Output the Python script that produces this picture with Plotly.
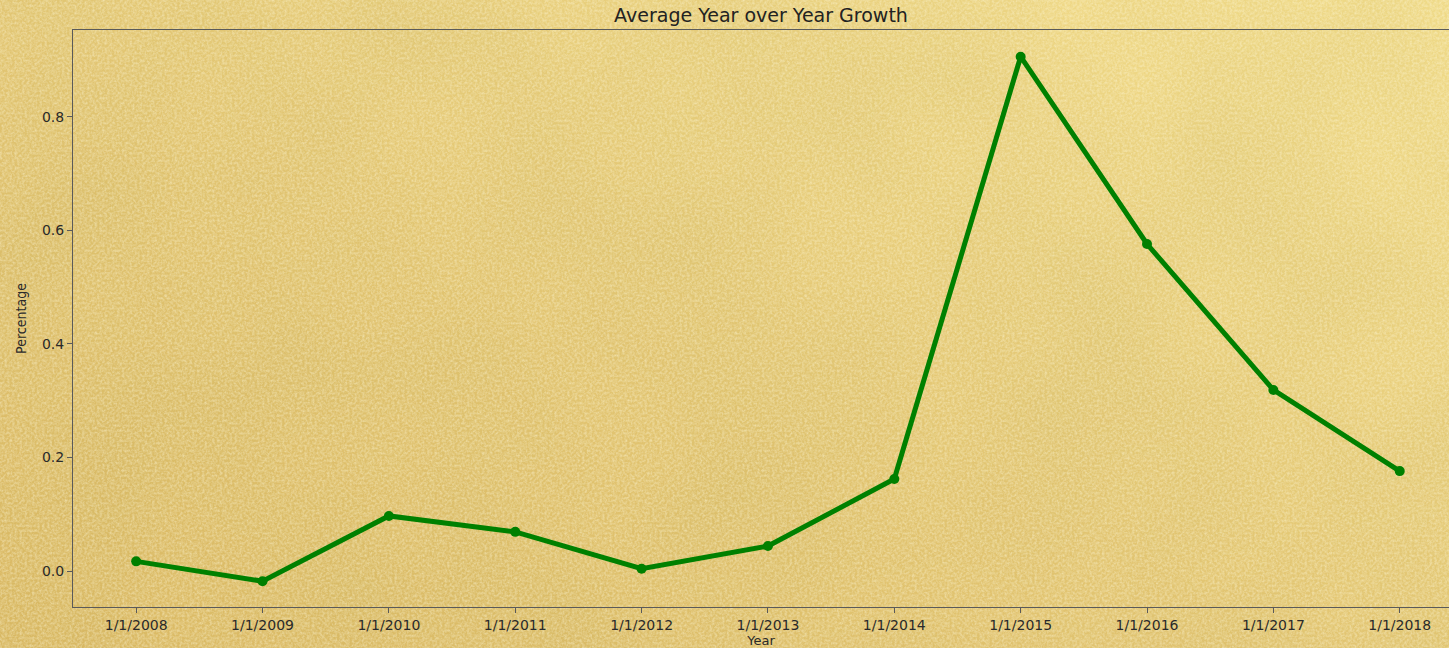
import base64

import plotly.graph_objects as go

# data
years = ["1/1/2008", "1/1/2009", "1/1/2010", "1/1/2011", "1/1/2012", "1/1/2013",
         "1/1/2014", "1/1/2015", "1/1/2016", "1/1/2017", "1/1/2018"]
growth = [0.017, -0.018, 0.097, 0.069, 0.004, 0.044, 0.162, 0.906, 0.576, 0.319, 0.176]
y_ticks = [0.0, 0.2, 0.4, 0.6, 0.8]

W, H = 1449, 648
M = {"l": 73, "r": 0, "t": 30, "b": 41}
pw = W - M["l"] - M["r"]
ph = H - M["t"] - M["b"]

# parchment-like background as an inline svg (gradient + fractal noise)
svg = f"""<svg xmlns="http://www.w3.org/2000/svg" width="{W}" height="{H}" viewBox="0 0 {W} {H}">
<defs>
<linearGradient id="g" x1="0" y1="1" x2="1" y2="0">
<stop offset="0" stop-color="#dab964"/>
<stop offset="0.45" stop-color="#e2c572"/>
<stop offset="1" stop-color="#f3de8d"/>
</linearGradient>
<filter id="blot"><feTurbulence type="fractalNoise" baseFrequency="0.006" numOctaves="2" seed="3"/>
<feColorMatrix type="matrix" values="0 0 0 0 0.55  0 0 0 0 0.42  0 0 0 0 0.1  0 0 0 0.35 -0.1"/></filter>
<filter id="grain"><feTurbulence type="fractalNoise" baseFrequency="0.4" numOctaves="3" seed="7"/>
<feColorMatrix type="matrix" values="0 0 0 0 1  0 0 0 0 0.95  0 0 0 0 0.7  0 0 0 0.8 -0.25"/></filter>
</defs>
<rect width="{W}" height="{H}" fill="url(#g)"/>
<rect width="{W}" height="{H}" filter="url(#blot)"/>
<rect width="{W}" height="{H}" filter="url(#grain)"/>
</svg>"""
bg_src = "data:image/svg+xml;base64," + base64.b64encode(svg.encode()).decode()

fig = go.Figure()
fig.add_trace(
    go.Scatter(
        x=years,
        y=growth,
        mode="lines+markers",
        line={"color": "#008000", "width": 5},
        marker={"color": "#008000", "size": 10},
        showlegend=False,
    )
)

fig.add_layout_image(
    source=bg_src,
    xref="paper",
    yref="paper",
    x=-M["l"] / pw,
    y=1 + M["t"] / ph,
    sizex=W / pw,
    sizey=H / ph,
    xanchor="left",
    yanchor="top",
    sizing="stretch",
    layer="below",
)

axis_font = {"family": "DejaVu Sans", "size": 14, "color": "#2a2a2a"}
fig.update_layout(
    width=W,
    height=H,
    margin=M,
    paper_bgcolor="#e6cb7a",
    plot_bgcolor="rgba(0,0,0,0)",
    title={
        "text": "Average Year over Year Growth",
        "x": 0.5,
        "xref": "paper",
        "y": 1 - 15 / H,
        "yanchor": "middle",
        "font": {"family": "DejaVu Sans", "size": 19, "color": "#222"},
    },
    xaxis={
        "type": "category",
        "range": [-0.5, 10.39],
        "showgrid": False,
        "zeroline": False,
        "showline": True,
        "mirror": True,
        "linecolor": "#5a5a5a",
        "linewidth": 1,
        "ticks": "outside",
        "ticklen": 5,
        "tickcolor": "#5a5a5a",
        "tickfont": axis_font,
        "title": {"text": "Year", "font": {"family": "DejaVu Sans", "size": 13, "color": "#2a2a2a"}, "standoff": 2},
    },
    yaxis={
        "range": [-0.0634, 0.953],
        "tickvals": y_ticks,
        "tickformat": ".1f",
        "showgrid": False,
        "zeroline": False,
        "showline": True,
        "linecolor": "#5a5a5a",
        "linewidth": 1,
        "ticks": "outside",
        "ticklen": 5,
        "tickcolor": "#5a5a5a",
        "tickfont": axis_font,
        "title": {"text": "Percentage", "font": {"family": "DejaVu Sans Condensed", "size": 14, "color": "#2a2a2a"}, "standoff": 12},
    },
)

fig.write_html(
    "out.html",
    config={"displayModeBar": False},
    post_script="document.body.style.margin='0';",
)
